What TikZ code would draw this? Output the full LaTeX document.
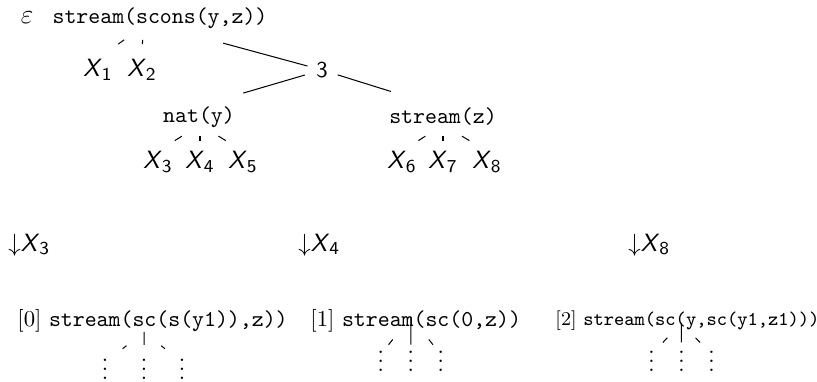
\documentclass[tikz,border=0pt]{standalone}
\usetikzlibrary{calc}
\newlength\pwA
\newlength\pwB
\newlength\pwC
\newlength\cwA
\newlength\cwB
\newcommand\Xv[1]{\textsf{\slshape X}$_{\mathsf{#1}}$}
\newcommand\smallfnt{\fontsize{8.6}{10}\selectfont}
\begin{document}
\settowidth{\pwA}{[0]\ }%
\settowidth{\pwB}{[1]\ }%
\settowidth{\pwC}{\smallfnt [2]\ }%
\settowidth{\cwA}{\ttfamily s}%
\settowidth{\cwB}{\smallfnt\ttfamily s}%
\begin{tikzpicture}[x=0.44pt,y=-0.44pt,
  lbl/.style={inner sep=0pt},
  tt/.style={inner sep=0pt,font=\ttfamily},
  xv/.style={inner sep=0pt,font=\fontsize{11}{13}\selectfont},
  dts/.style={inner sep=0pt,anchor=south},
  edge/.style={line width=0.45pt}]
\useasboundingbox (0,0) rectangle (817,382);
% top tree
\node[lbl,font=\large] (eps) at (27,18) {$\varepsilon$};
\node[tt] (top) at (160,18) {stream(scons(y,z))};
\coordinate (ptop) at (143,26);
\node[xv] (x1) at (98,70) {\Xv{1}};
\node[xv] (x2) at (142,70) {\Xv{2}};
\draw[edge] ($(ptop)!0.42!(x1.north)$) -- ($(ptop)!0.55!(x1.north)$);
\draw[edge] ($(ptop)!0.42!(x2.north)$) -- ($(ptop)!0.55!(x2.north)$);
\node[lbl,font=\sffamily] (three) at (322,70) {3};
\coordinate (ptops) at (160,26);
\draw[edge] ($(ptops)!0.39!(three)$) -- ($(ptops)!0.91!(three)$);
\node[tt] (nat) at (199,117) {nat(y)};
\node[tt] (sz) at (443,117) {stream(z)};
\draw[edge] ($(three)!0.14!(nat.north)$) -- ($(three)!0.64!(nat.north)$);
\draw[edge] ($(three)!0.13!(sz.north)$) -- ($(three)!0.57!(sz.north)$);
\node[xv] (x3) at (158,162) {\Xv{3}};
\node[xv] (x4) at (200,162) {\Xv{4}};
\node[xv] (x5) at (243,162) {\Xv{5}};
\node[xv] (x6) at (402,162) {\Xv{6}};
\node[xv] (x7) at (443,162) {\Xv{7}};
\node[xv] (x8) at (487,162) {\Xv{8}};
\coordinate (pnat) at (200,125);
\coordinate (psz) at (443,125);
\foreach \c in {x3,x4,x5}
  \draw[edge] ($(pnat)!0.43!(\c.north)$) -- ($(pnat)!0.6!(\c.north)$);
\foreach \c in {x6,x7,x8}
  \draw[edge] ($(psz)!0.43!(\c.north)$) -- ($(psz)!0.6!(\c.north)$);
% arrows
\node[xv,anchor=west] (a3) at (8,245) {$\downarrow$\Xv{3}};
\node[xv,anchor=west] (a4) at (298,245) {$\downarrow$\Xv{4}};
\node[xv,anchor=west] (a8) at (628,245) {$\downarrow$\Xv{8}};
% bottom nodes
\node[lbl,anchor=west] (b0) at (17,321) {[0] \texttt{stream(sc(s(y1)),z))}};
\node[lbl,anchor=west] (b1) at (310,321) {[1] \texttt{stream(sc(0,z))}};
\node[lbl,anchor=west,font=\smallfnt] (b2) at (555,321) {[2] \texttt{stream(sc(y,sc(y1,z1)))}};
\coordinate (q0) at ($(b0.west)+(\pwA+8\cwA,0)$);
\coordinate (q1) at ($(b1.west)+(\pwB+5.8\cwA,0)$);
\coordinate (q2) at ($(b2.west)+(\pwC+9.6\cwB,0)$);
\coordinate (p0) at (q0 |- 0,332);
\coordinate (p1) at (q1 |- 0,317);
\coordinate (p2) at (q2 |- 0,323);
\node[dts] (d01) at ($(p0 |- 0,380)+(-39,0)$) {$\vdots$};
\node[dts] (d02) at (p0 |- 0,380) {$\vdots$};
\node[dts] (d03) at ($(p0 |- 0,380)+(38,0)$) {$\vdots$};
\node[dts] (d11) at ($(p1 |- 0,372)+(-30,0)$) {$\vdots$};
\node[dts] (d12) at (p1 |- 0,372) {$\vdots$};
\node[dts] (d13) at ($(p1 |- 0,372)+(30,0)$) {$\vdots$};
\node[dts] (d21) at ($(p2 |- 0,372)+(-30,0)$) {$\vdots$};
\node[dts] (d22) at (p2 |- 0,372) {$\vdots$};
\node[dts] (d23) at ($(p2 |- 0,372)+(30,0)$) {$\vdots$};
\foreach \p/\a/\b/\c/\s/\e/\m in {p0/d01/d02/d03/0.45/0.55/0.42,
                                  p1/d11/d12/d13/0.6/0.74/0.74,
                                  p2/d21/d22/d23/0.47/0.62/0.62}{
  \draw[edge] ($(\p)!\s!(\a.center)$) -- ($(\p)!\e!(\a.center)$);
  \draw[edge] (\p) -- ($(\p)!\m!(\b.center)$);
  \draw[edge] ($(\p)!\s!(\c.center)$) -- ($(\p)!\e!(\c.center)$);
}
\end{tikzpicture}
\end{document}
